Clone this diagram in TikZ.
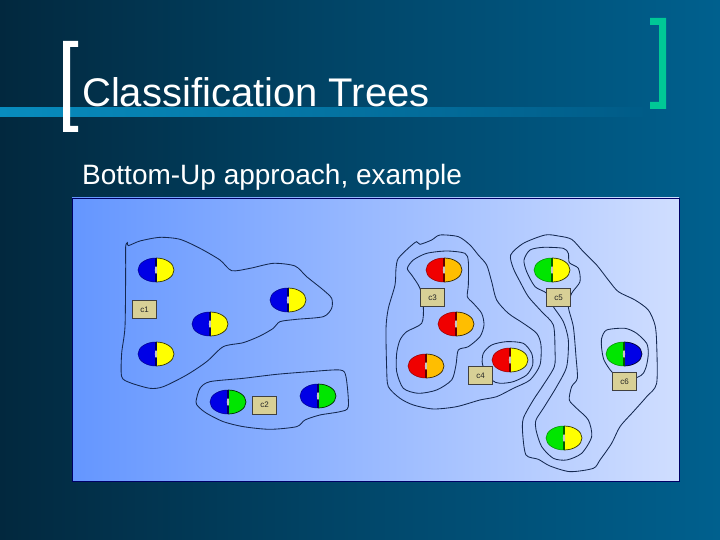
\documentclass[tikz,border=0pt]{standalone}
\usepackage{fontspec}
\setmainfont{Liberation Sans}
\definecolor{bgL}{RGB}{2,40,62}
\definecolor{bgR}{RGB}{0,96,142}
\definecolor{barL}{RGB}{8,140,190}
\definecolor{panelL}{RGB}{100,150,255}
\definecolor{panelR}{RGB}{208,222,255}
\definecolor{boxfill}{RGB}{216,208,150}
\definecolor{lineC}{RGB}{20,40,80}
\definecolor{teal}{RGB}{0,200,150}
\definecolor{ballB}{RGB}{0,0,230}
\definecolor{ballY}{RGB}{255,255,0}
\definecolor{ballG}{RGB}{0,230,0}
\definecolor{ballR}{RGB}{240,0,0}
\definecolor{ballO}{RGB}{255,190,0}
\tikzset{
 x=1pt,y=-1pt,
 contour/.style={draw=lineC,line width=0.85pt,smooth cycle,tension=0.45},
 tag/.style={draw=black!75,fill=boxfill,line width=0.8pt,minimum width=24pt,minimum height=18pt,inner sep=0pt,font=\fontsize{8}{9}\selectfont,text=black!85},
}
\newcommand{\ball}[4]{% x y left right
 \begin{scope}[shift={(#1,#2)}]
 \fill[#3] (0,-12) arc[start angle=90,end angle=270,x radius=18pt,y radius=12pt] -- cycle;
 \fill[#4] (0,-12) arc[start angle=90,end angle=-90,x radius=18pt,y radius=12pt] -- cycle;
 \draw[black!80!#4,line width=0.7pt] (0,-12) arc[start angle=90,end angle=-90,x radius=18pt,y radius=12pt];
 \draw[black!40!#3,line width=0.5pt] (0,-12) arc[start angle=90,end angle=270,x radius=18pt,y radius=12pt];
 \draw[black!60!#3,line width=1.8pt] (0,-12) -- (0,12);
 \fill[white!55!gray] (0,0) ellipse[x radius=1.1pt,y radius=4pt];
 \end{scope}}
\begin{document}
\begin{tikzpicture}
\useasboundingbox (0,0) rectangle (720,540);
\shade[left color=bgL,right color=bgR,shading angle=90,middle color=bgL!45!bgR] (0,0) rectangle (720,540);
% title bar
\shade[left color=barL,middle color=barL!72!bgR,right color=bgR!91!bgL] (0,108) rectangle (650,117);
% brackets
\fill[white] (63,41) -- (78,41) -- (78,47) -- (70,47) -- (70,126) -- (78,126) -- (78,132) -- (63,132) -- cycle;
\fill[teal] (650,18) -- (666,18) -- (666,109) -- (650,109) -- (650,102) -- (659,102) -- (659,25) -- (650,25) -- cycle;
% texts
\node[anchor=base west,text=white,inner sep=0pt,font=\fontsize{40}{44}\selectfont] (title) at (82,107) {Classification Trees};
\node[anchor=base west,text=white,inner sep=0pt,font=\fontsize{28}{32}\selectfont] (sub) at (82,185) {Bottom-Up approach, example};
% panel
\shade[left color=panelL,right color=panelR,draw=black!60!blue,line width=0.6pt] (72,198) rectangle (679,481);
% contours: first group, in crop coordinates (110,230)
\begin{scope}[shift={(110,230)},x=0.3333pt,y=-0.3333pt]
\draw[contour] plot coordinates {(52,38)(47,50)(47,120)(45,290)(35,370)(35,440)(60,458)(120,475)(160,470)(230,435)(290,395)(340,350)(400,338)(450,318)(490,295)(510,275)(560,268)(640,260)(665,235)(665,205)(640,180)(590,140)(555,108)(490,100)(420,115)(365,122)(330,90)(270,55)(210,28)(150,22)(90,33)(55,47)};
\draw[contour] plot coordinates {(258,515)(270,475)(300,455)(400,445)(500,433)(600,425)(690,420)(708,440)(715,530)(690,545)(630,555)(585,570)(560,590)(480,598)(400,590)(340,575)(290,550)(265,530)};
\end{scope}
\begin{scope}[shift={(380,225)},x=0.3333pt,y=-0.3333pt]
\draw[contour] plot coordinates {(110,50)(90,65)(55,100)(48,130)(45,180)(25,250)(18,310)(20,430)(25,485)(60,520)(100,540)(160,552)(230,545)(300,525)(350,515)(400,490)(450,465)(480,420)(483,360)(470,325)(430,295)(385,265)(350,225)(335,170)(320,120)(295,90)(270,60)(235,35)(180,30)(155,45)(120,58)};
\draw[contour] plot coordinates {(82,130)(100,105)(140,85)(200,78)(255,85)(265,110)(265,180)(262,215)(280,235)(305,265)(312,300)(300,335)(265,365)(235,375)(228,420)(215,465)(170,495)(115,505)(70,490)(50,440)(50,385)(60,345)(80,320)(125,295)(130,245)(120,190)(95,150)};
\draw[contour] plot coordinates {(308,420)(310,385)(335,360)(380,350)(430,355)(455,385)(458,420)(440,450)(400,470)(360,475)(335,465)};
\end{scope}
\begin{scope}[shift={(500,230)},x=0.3333pt,y=-0.3333pt]
% outer right contour
\draw[contour] plot coordinates {(32,75)(70,40)(135,15)(175,18)(215,28)(250,65)(290,105)(325,150)(355,185)(405,210)(445,240)(465,285)(470,340)(470,460)(440,500)(400,545)(360,590)(335,640)(300,690)(280,715)(210,725)(150,708)(115,688)(78,675)(68,610)(70,565)(100,510)(130,465)(163,410)(165,360)(160,285)(125,245)(85,200)(60,155)(40,115)};
% c5 inner contour
\draw[contour] plot coordinates {(140,190)(105,170)(80,125)(72,90)(90,60)(130,52)(190,55)(205,70)(208,98)(235,115)(240,155)(215,190)(205,230)(220,290)(228,380)(232,445)(215,470)(208,510)(230,535)(265,570)(275,620)(245,670)(200,690)(160,685)(125,650)(108,600)(108,570)(130,535)(170,470)(200,410)(205,330)(190,275)(160,230)};
% c6 contour
\draw[contour] plot coordinates {(305,325)(320,300)(375,295)(410,310)(440,340)(445,370)(440,405)(430,430)(412,442)(370,450)(335,425)(312,390)(305,355)};
\end{scope}
% balls
\ball{156}{270}{ballB}{ballY}
\ball{156}{354}{ballB}{ballY}
\ball{210}{324}{ballB}{ballY}
\ball{288}{300}{ballB}{ballY}
\ball{228}{402}{ballB}{ballG}
\ball{318}{396}{ballB}{ballG}
\ball{444}{270}{ballR}{ballO}
\ball{456}{324}{ballR}{ballO}
\ball{426}{366}{ballR}{ballO}
\ball{510}{360}{ballR}{ballY}
\ball{552}{270}{ballG}{ballY}
\ball{564}{438}{ballG}{ballY}
\ball{624}{354}{ballG}{ballB}
% tags
\node[tag] (c1) at (144.5,309.5) {c1};
\node[tag] (c2) at (264.5,405) {c2};
\node[tag] (c3) at (432.5,297.5) {c3};
\node[tag] (c4) at (480.5,375.5) {c4};
\node[tag] (c5) at (558.5,297.5) {c5};
\node[tag] (c6) at (624.5,381.5) {c6};
\end{tikzpicture}
\end{document}
